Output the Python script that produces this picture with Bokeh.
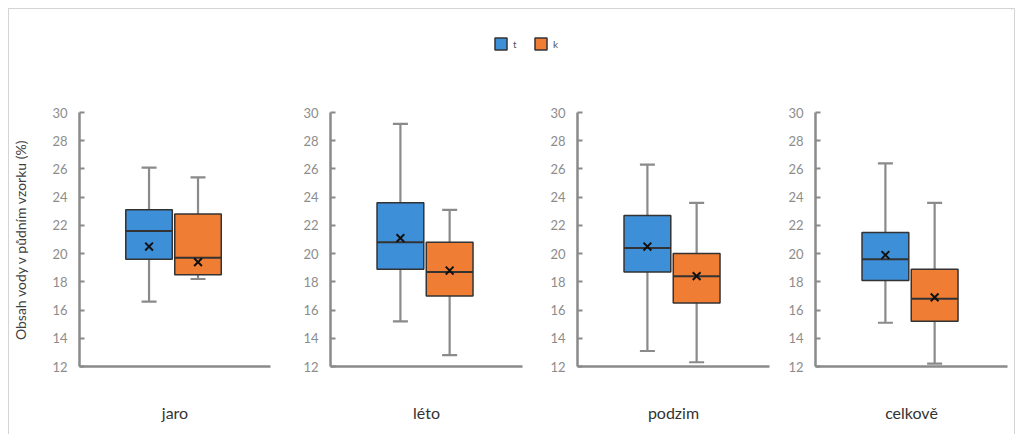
from bokeh.plotting import figure
from bokeh.models import Range1d, FixedTicker, Legend, LegendItem, ColumnDataSource
from bokeh.layouts import row, column
from bokeh.embed import file_html
from bokeh.resources import INLINE

seasons = ["jaro", "léto", "podzim", "celkově"]
series = ["t", "k"]
colors = ["#3d8fd8", "#ef7d33"]

t_min = [16.6, 15.2, 13.1, 15.1]
t_q1 = [19.6, 18.9, 18.7, 18.1]
t_med = [21.6, 20.8, 20.4, 19.6]
t_mean = [20.5, 21.1, 20.5, 19.9]
t_q3 = [23.1, 23.6, 22.7, 21.5]
t_max = [26.1, 29.2, 26.3, 26.4]

k_min = [18.2, 12.8, 12.3, 12.2]
k_q1 = [18.5, 17.0, 16.5, 15.2]
k_med = [19.7, 18.7, 18.4, 16.8]
k_mean = [19.4, 18.8, 18.4, 16.9]
k_q3 = [22.8, 20.8, 20.0, 18.9]
k_max = [25.4, 23.1, 23.6, 23.6]

y_ticks = [12, 14, 16, 18, 20, 22, 24, 26, 28, 30]
y_title = "Obsah vody v půdním vzorku (%)"

FONT = "Lato"
AXIS_COL = "#8a8a8a"
BOX_LINE = "#333333"
BW = 0.95

stats = {
    "t": (t_min, t_q1, t_med, t_mean, t_q3, t_max),
    "k": (k_min, k_q1, k_med, k_mean, k_q3, k_max),
}

lefts = [69, 45, 45, 45]
rights = [15, 10, 1, 7]
FRAME_W = 192

panels = []
for i, season in enumerate(seasons):
    p = figure(width=lefts[i] + FRAME_W + rights[i], height=345,
               x_range=Range1d(-1.42, 2.48), y_range=Range1d(12, 30),
               output_backend="svg", toolbar_location=None,
               min_border_left=lefts[i], min_border_right=rights[i],
               min_border_top=23, min_border_bottom=68,
               background_fill_color="white", border_fill_color="white")
    p.outline_line_color = None
    p.grid.visible = False

    xs = list(range(len(series)))
    src = ColumnDataSource(dict(
        x=xs,
        x0=[x - BW / 2 for x in xs],
        x1=[x + BW / 2 for x in xs],
        lo=[stats[s][0][i] for s in series],
        q1=[stats[s][1][i] for s in series],
        med=[stats[s][2][i] for s in series],
        mean=[stats[s][3][i] for s in series],
        q3=[stats[s][4][i] for s in series],
        hi=[stats[s][5][i] for s in series],
        color=colors,
    ))
    p.segment(x0="x", x1="x", y0="lo", y1="hi", source=src,
              line_color=AXIS_COL, line_width=2.2)
    p.scatter(x="x", y="lo", source=src, marker="dash", size=15,
              line_color=AXIS_COL, line_width=2.2)
    p.scatter(x="x", y="hi", source=src, marker="dash", size=15,
              line_color=AXIS_COL, line_width=2.2)
    p.vbar(x="x", bottom="q1", top="q3", width=BW, source=src,
           fill_color="color", line_color=BOX_LINE, line_width=1.5)
    p.segment(x0="x0", x1="x1", y0="med", y1="med", source=src,
              line_color=BOX_LINE, line_width=2)
    p.scatter(x="x", y="mean", source=src, marker="x", size=11,
              line_color="#111111", line_width=2)

    ya = p.yaxis[0]
    ya.ticker = FixedTicker(ticks=y_ticks)
    ya.minor_tick_line_color = None
    ya.major_tick_in = 5
    ya.major_tick_out = 0
    ya.major_tick_line_color = AXIS_COL
    ya.major_tick_line_width = 2
    ya.axis_line_color = AXIS_COL
    ya.axis_line_width = 2.5
    ya.major_label_standoff = 12
    ya.major_label_text_font = FONT
    ya.major_label_text_font_size = "13px"
    ya.major_label_text_color = "#8c8c8c"
    if i == 0:
        ya.axis_label = y_title
        ya.axis_label_text_font = FONT
        ya.axis_label_text_font_size = "14px"
        ya.axis_label_text_font_style = "normal"
        ya.axis_label_text_color = "#404040"
        ya.axis_label_standoff = 20

    xa = p.xaxis[0]
    xa.ticker = FixedTicker(ticks=[])
    xa.minor_tick_line_color = None
    xa.major_tick_out = 0
    xa.major_tick_in = 0
    xa.major_label_text_font_size = "0px"
    xa.axis_line_color = AXIS_COL
    xa.axis_line_width = 2.5
    xa.axis_label = season
    xa.axis_label_text_font = FONT
    xa.axis_label_text_font_size = "16px"
    xa.axis_label_text_font_style = "normal"
    xa.axis_label_text_color = "#333333"
    xa.axis_label_standoff = 36
    panels.append(p)

lg = figure(width=1003, height=80, x_range=Range1d(0, 1), y_range=Range1d(0, 1),
            output_backend="svg", toolbar_location=None,
            min_border=0, background_fill_color="white", border_fill_color="white")
lg.outline_line_color = None
lg.axis.visible = False
lg.grid.visible = False
items = []
for s, c in zip(series, colors):
    r = lg.vbar(x=[5], top=[5], bottom=[4], width=0.5, fill_color=c,
                line_color=BOX_LINE, line_width=1.5)
    items.append(LegendItem(label=s, renderers=[r]))
legend = Legend(items=items, orientation="horizontal", location=(484, 38),
                glyph_width=15, glyph_height=15, label_text_font=FONT,
                label_text_font_size="10px", label_text_color="#555555",
                label_standoff=5, label_width=15, spacing=5, padding=0, margin=0,
                border_line_color=None, background_fill_alpha=0)
lg.add_layout(legend, "center")

layout = column(lg, row(*panels), margin=(8, 0, 0, 8),
                styles={"border-left": "1px solid #d4d4d4",
                        "border-top": "1px solid #d4d4d4",
                        "border-right": "1px solid #d4d4d4"})

open("out.html", "w").write(file_html(layout, INLINE))
